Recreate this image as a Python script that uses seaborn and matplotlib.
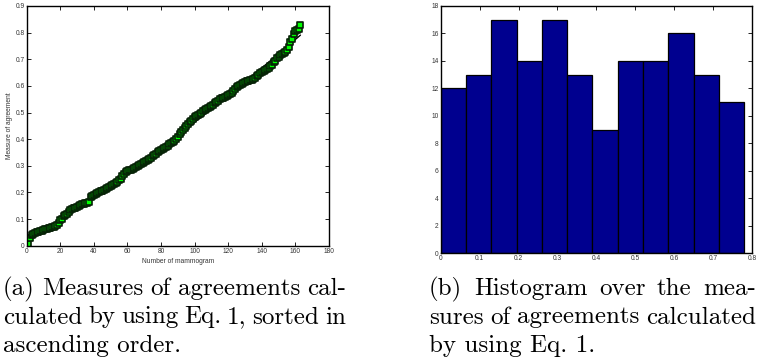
import numpy as np
import pandas as pd
import matplotlib
matplotlib.use("Agg")
import matplotlib.pyplot as plt
import seaborn as sns

# ---------------- data ----------------
# (a) sorted measures of agreement, one per mammogram (163 values)
agreement = [
    0.005, 0.030, 0.040, 0.045, 0.048, 0.050, 0.052, 0.055, 0.057, 0.060,
    0.062, 0.064, 0.066, 0.068, 0.070, 0.072, 0.074, 0.076, 0.085, 0.095,
    0.100, 0.110, 0.115, 0.120, 0.128, 0.133, 0.136, 0.140, 0.143, 0.146,
    0.149, 0.152, 0.155, 0.158, 0.160, 0.162, 0.165, 0.182, 0.186, 0.190,
    0.193, 0.196, 0.200, 0.204, 0.207, 0.210, 0.214, 0.218, 0.222, 0.225,
    0.228, 0.232, 0.236, 0.240, 0.245, 0.252, 0.260, 0.268, 0.276, 0.281,
    0.284, 0.286, 0.289, 0.292, 0.295, 0.299, 0.303, 0.307, 0.311, 0.315,
    0.319, 0.323, 0.327, 0.331, 0.335, 0.340, 0.345, 0.350, 0.355, 0.360,
    0.364, 0.368, 0.372, 0.376, 0.380, 0.384, 0.388, 0.392, 0.400, 0.410,
    0.418, 0.426, 0.434, 0.442, 0.450, 0.458, 0.465, 0.470, 0.476, 0.482,
    0.486, 0.490, 0.494, 0.499, 0.504, 0.508, 0.512, 0.516, 0.520, 0.525,
    0.530, 0.535, 0.540, 0.545, 0.550, 0.553, 0.556, 0.559, 0.562, 0.566,
    0.570, 0.575, 0.580, 0.588, 0.596, 0.600, 0.604, 0.608, 0.611, 0.614,
    0.617, 0.619, 0.621, 0.623, 0.626, 0.630, 0.636, 0.642, 0.648, 0.653,
    0.657, 0.661, 0.665, 0.669, 0.674, 0.680, 0.688, 0.695, 0.703, 0.710,
    0.715, 0.720, 0.724, 0.728, 0.733, 0.745, 0.765, 0.775, 0.795, 0.805,
    0.810, 0.815, 0.830,
]
mammogram = list(range(1, len(agreement) + 1))

# (b) histogram counts, 12 equal bins
hist_counts = [12, 13, 17, 14, 17, 13, 9, 14, 14, 16, 13, 11]
hist_min, hist_max = 0.0, 0.78

x_ticks_a = [0, 20, 40, 60, 80, 100, 120, 140, 160, 180]
y_ticks_a = [0, 0.1, 0.2, 0.3, 0.4, 0.5, 0.6, 0.7, 0.8, 0.9]
x_ticks_b = [0, 0.1, 0.2, 0.3, 0.4, 0.5, 0.6, 0.7, 0.8]
y_ticks_b = [0, 2, 4, 6, 8, 10, 12, 14, 16, 18]

caption_a = ["(a) Measures of agreements cal-",
             "culated by using Eq. 1, sorted in",
             "ascending order."]
caption_b = ["(b) Histogram over the mea-",
             "sures of agreements calculated",
             "by using Eq. 1."]

# ---------------- style ----------------
sns.set_style("ticks")
plt.rcParams["font.family"] = ["Liberation Sans", "DejaVu Sans"]
plt.rcParams["axes.unicode_minus"] = False

W, H = 757, 360
fig = plt.figure(figsize=(W / 100, H / 100), dpi=100)

def px_axes(l, t, r, b):
    return fig.add_axes([l / W, 1 - b / H, (r - l) / W, (b - t) / H])

def fmt(v):
    return "%g" % v

def matlab_axes(ax, xt, yt, xlim, ylim):
    ax.set_xlim(*xlim)
    ax.set_ylim(*ylim)
    ax.set_xticks(xt)
    ax.set_yticks(yt)
    ax.set_xticklabels([fmt(v) for v in xt])
    ax.set_yticklabels([fmt(v) for v in yt])
    ax.tick_params(direction="in", length=3, width=0.6, labelsize=4.8,
                   top=True, right=True, pad=1.5, colors="black",
                   labelcolor="#333333")
    for s in ax.spines.values():
        s.set_visible(True)
        s.set_linewidth(1.0)
        s.set_color("black")

# ---------------- (a) ----------------
ax1 = px_axes(26.7, 6, 329, 245.7)
df = pd.DataFrame({"n": mammogram, "agreement": agreement})
coef = np.polyfit(df["n"], df["agreement"], 3)
df["fit"] = np.polyval(coef, df["n"])
sns.lineplot(data=df, x="n", y="fit", ax=ax1, color="black", lw=1.0, zorder=1)
sns.scatterplot(data=df, x="n", y="agreement", ax=ax1, marker="s", s=22,
                color="#00ff00", edgecolor="#062006", linewidth=1.2, zorder=2)
matlab_axes(ax1, x_ticks_a, y_ticks_a, (0, 180), (0, 0.9))
ax1.set_xlabel("Number of mammogram", fontsize=4.8, labelpad=2, color="#333333")
ax1.set_ylabel("Measure of agreement", fontsize=4.8, labelpad=2, color="#333333")

# ---------------- (b) ----------------
ax2 = px_axes(440.7, 6, 752, 253.3)
edges = np.linspace(hist_min, hist_max, len(hist_counts) + 1)
centers = (edges[:-1] + edges[1:]) / 2
dfh = pd.DataFrame({"center": centers, "count": hist_counts})
sns.histplot(data=dfh, x="center", weights="count", bins=len(hist_counts),
             binrange=(hist_min, hist_max), ax=ax2,
             color="#00008f", edgecolor="black", linewidth=0.9, alpha=1.0)
matlab_axes(ax2, x_ticks_b, y_ticks_b, (0, 0.8), (0, 18))
ax2.set_xlabel("")
ax2.set_ylabel("")

# ---------------- captions (justified) ----------------
cap_font = dict(family="cmr10", fontsize=18, color="black")
renderer = fig.canvas.get_renderer()

def caption(lines, x0, x1, base_y, justify_last=False, step=28.5):
    for i, line in enumerate(lines):
        y = 1 - (base_y + i * step) / H
        words = line.split(" ")
        last = (i == len(lines) - 1)
        if last and not justify_last:
            fig.text(x0 / W, y, line, ha="left", va="baseline", **cap_font)
            continue
        txts = [fig.text(0, y, w, ha="left", va="baseline", **cap_font) for w in words]
        widths = [t.get_window_extent(renderer).width for t in txts]
        gap = (x1 - x0 - sum(widths)) / max(len(words) - 1, 1)
        x = x0
        for t, w in zip(txts, widths):
            t.set_x(x / W)
            x += w + gap

caption(caption_a, 3, 346, 295)
caption(caption_b, 429, 756, 295)

fig.savefig("out.png", dpi=100)
